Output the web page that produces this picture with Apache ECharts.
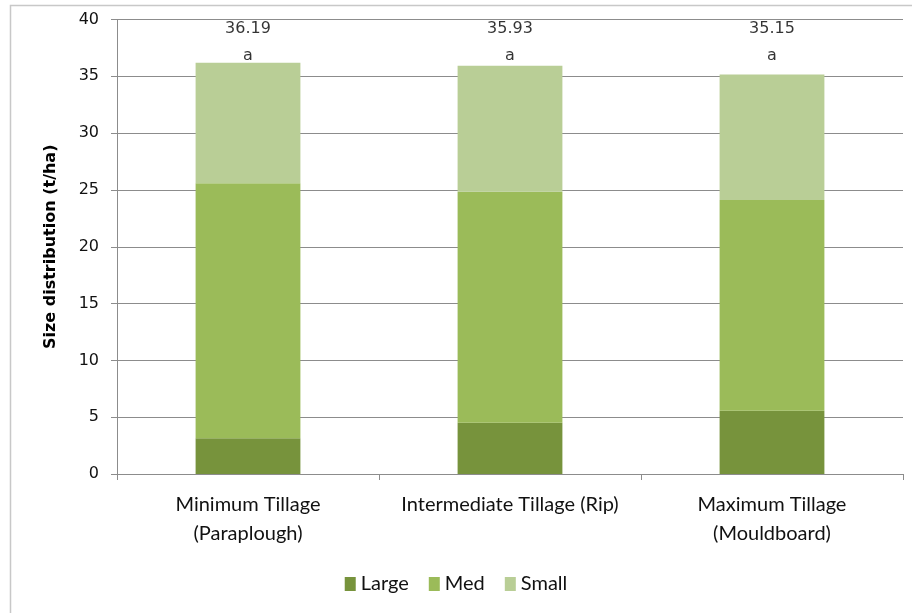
<!DOCTYPE html>
<html>
<head>
<meta charset="utf-8">
<script src="https://cdn.jsdelivr.net/npm/echarts@6/dist/echarts.min.js"></script>
<style>
  html, body { margin: 0; padding: 0; background: #fff; }
  #chart { width: 912px; height: 613px; }
</style>
</head>
<body>
<div id="chart"></div>
<script>
// Tuber size distribution by tillage treatment (t/ha)
const categories = ['Minimum Tillage\n(Paraplough)', 'Intermediate Tillage (Rip)', 'Maximum Tillage\n(Mouldboard)'];
const large = [3.15, 4.5, 5.56];
const med = [22.44, 20.35, 18.56];
const small = [10.6, 11.08, 11.03];
const letters = ['a', 'a', 'a'];
const yTicks = { min: 0, max: 40, interval: 5 };

// styling
const colors = { Large: '#77933C', Med: '#9BBB59', Small: '#B9CE96' };
const gridColor = '#8C8C8C';
const numFont = '"DejaVu Sans", Verdana, sans-serif';
const textFont = 'Lato, "Open Sans", sans-serif';
const totalsRowLevel = 37.95; // axis level where the totals/letters row sits

const chart = echarts.init(document.getElementById('chart'));

function seriesOf(name, data) {
  return {
    name: name,
    type: 'bar',
    stack: 'total',
    data: data,
    barWidth: '40%',
    itemStyle: { color: colors[name] },
    emphasis: { disabled: true }
  };
}

chart.setOption({
  animation: false,
  graphic: [{
    type: 'rect',
    shape: { x: 10.5, y: 5.5, width: 920, height: 640 },
    style: { fill: 'none', stroke: '#C8C8C8', lineWidth: 1.5 },
    silent: true
  }],
  grid: { left: 117, right: 9, top: 19.5, bottom: 139 },
  legend: {
    bottom: 14,
    left: 'center',
    itemWidth: 11,
    itemHeight: 14,
    itemGap: 20,
    icon: 'rect',
    textStyle: { fontFamily: textFont, fontSize: 20, color: '#111' },
    data: ['Large', 'Med', 'Small']
  },
  xAxis: {
    type: 'category',
    data: categories,
    axisLine: { lineStyle: { color: gridColor, width: 1 } },
    axisTick: { show: true, length: 6, lineStyle: { color: gridColor } },
    axisLabel: {
      interval: 0,
      hideOverlap: false,
      fontFamily: textFont,
      fontSize: 20,
      color: '#111',
      lineHeight: 29,
      margin: 16
    }
  },
  yAxis: {
    type: 'value',
    min: yTicks.min,
    max: yTicks.max,
    interval: yTicks.interval,
    name: 'Size distribution (t/ha)',
    nameLocation: 'middle',
    nameGap: 58,
    nameRotate: 90,
    nameTextStyle: { fontFamily: numFont, fontSize: 16, fontWeight: 'bold', color: '#000' },
    axisLine: { show: true, lineStyle: { color: gridColor, width: 1 } },
    axisTick: { show: true, length: 6, lineStyle: { color: gridColor } },
    splitLine: { lineStyle: { color: gridColor, width: 1 } },
    axisLabel: {
      fontFamily: numFont,
      fontSize: 16,
      color: '#111',
      margin: 18
    }
  },
  series: [
    seriesOf('Large', large),
    seriesOf('Med', med),
    seriesOf('Small', small),
    {
      // totals and significance letters row
      name: 'totals',
      type: 'scatter',
      symbolSize: 0,
      silent: true,
      data: categories.map((c, i) => [i, totalsRowLevel]),
      label: {
        show: true,
        position: 'inside',
        fontFamily: numFont,
        fontSize: 16,
        color: '#000',
        formatter: function (p) {
          const i = p.dataIndex;
          const total = large[i] + med[i] + small[i];
          return '{t|' + total.toFixed(2) + '}\n{l|' + letters[i] + '}';
        },
        rich: {
          t: { fontFamily: numFont, fontSize: 16, color: '#000', lineHeight: 27 },
          l: { fontFamily: numFont, fontSize: 16, color: '#000', lineHeight: 27 }
        }
      }
    }
  ]
});
</script>
</body>
</html>
